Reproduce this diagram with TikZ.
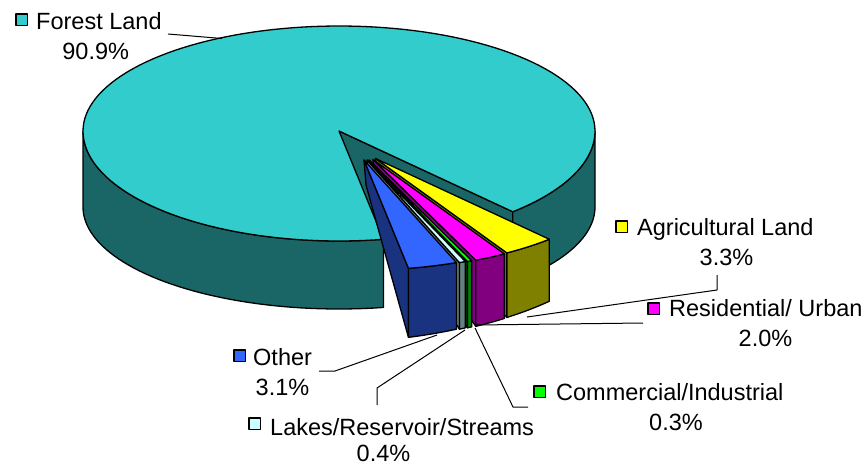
\documentclass[tikz,border=0pt]{standalone}
\usepackage{fontspec}
\setmainfont{Liberation Sans}
\definecolor{forestT}{HTML}{33CCCC}
\definecolor{forestS}{HTML}{1A6666}
\definecolor{otherT}{HTML}{3366FF}
\definecolor{otherS}{HTML}{1A3380}
\definecolor{lakeT}{HTML}{CCFFFF}
\definecolor{lakeS}{HTML}{668080}
\definecolor{commT}{HTML}{00FF00}
\definecolor{commS}{HTML}{008000}
\definecolor{resT}{HTML}{FF00FF}
\definecolor{resS}{HTML}{800080}
\definecolor{agriT}{HTML}{FFFF00}
\definecolor{agriS}{HTML}{808000}
\def\cx{339}\def\cy{131}\def\rx{256}\def\ryb{105}\def\ryf{110}\def\by{207}\def\rby{102}
\newcommand\pieslice[6]{%
 \filldraw[outl, fill=#6] ({\cx+#3},{\cy+#4}) -- ({\cx+#3+\rx*cos(#1)},{\cy+#4-\ryf*sin(#1)}) -- ({\cx+#3+\rx*cos(#1)},{\cy+#4-\ryf*sin(#1)+69-0.214*(#1+80)}) -- ({\cx+#3+2},{\cy+#4+25}) -- cycle;
 \filldraw[outl, fill=#6] plot[domain=#1:#2, samples=15, variable=\t] ({\cx+#3+\rx*cos(\t)},{\cy+#4-\ryf*sin(\t)}) -- plot[domain=#2:#1, samples=15, variable=\t] ({\cx+#3+\rx*cos(\t)},{\cy+#4-\ryf*sin(\t)+69-0.214*(\t+80)}) -- cycle;
 \filldraw[outl, fill=#5] ({\cx+#3},{\cy+#4}) -- plot[domain=#1:#2, samples=15, variable=\t] ({\cx+#3+\rx*cos(\t)},{\cy+#4-\ryf*sin(\t)}) -- cycle;
}
\begin{document}
\begin{tikzpicture}[x=1pt,y=-1pt, line join=round,
  outl/.style={draw=black, line width=1.3pt},
  lead/.style={draw=black, line width=1pt},
  lbl/.style={anchor=base west, inner sep=0pt, font=\fontsize{23.5}{28}\selectfont},
  pct/.style={anchor=base, inner sep=0pt, font=\fontsize{23.5}{28}\selectfont},
  key/.style={draw=black, line width=1.6pt, minimum size=11.5pt, inner sep=0pt, anchor=north west}]
\useasboundingbox (0,0) rectangle (866,466);
% main pie: cut face at -47.24
\filldraw[outl, fill=forestS] (\cx,\cy) -- ({\cx+\rx*cos(-47.24)},{\cy-\ryf*sin(-47.24)}) -- ({\cx+\rx*cos(-47.24)},{\by-\rby*sin(-47.24)}) -- (\cx,\by) -- cycle;
% sides
\filldraw[outl, fill=forestS] plot[domain=180:280, samples=50, variable=\t] ({\cx+\rx*cos(\t)},{\cy-\ryf*sin(\t)}) -- plot[domain=280:180, samples=50, variable=\t] ({\cx+\rx*cos(\t)},{\by-\rby*sin(\t)}) -- cycle;
\filldraw[outl, fill=forestS] plot[domain=-47.24:0, samples=30, variable=\t] ({\cx+\rx*cos(\t)},{\cy-\ryf*sin(\t)}) -- plot[domain=0:-47.24, samples=30, variable=\t] ({\cx+\rx*cos(\t)},{\by-\rby*sin(\t)}) -- cycle;
% top
\filldraw[outl, fill=forestT] (\cx,\cy) -- plot[domain=-47.24:0, samples=30, variable=\t] ({\cx+\rx*cos(\t)},{\cy-\ryf*sin(\t)}) -- plot[domain=0:180, samples=80, variable=\t] ({\cx+\rx*cos(\t)},{\cy-\ryb*sin(\t)}) -- plot[domain=180:280, samples=50, variable=\t] ({\cx+\rx*cos(\t)},{\cy-\ryf*sin(\t)}) -- cycle;
% exploded slices, right to left
\pieslice{-59.12}{-47.24}{36.5}{27.5}{agriT}{agriS}
\pieslice{-66.32}{-59.12}{34}{28.5}{resT}{resS}
\pieslice{-67.40}{-66.32}{30}{29}{commT}{commS}
\pieslice{-68.84}{-67.40}{28}{29}{lakeT}{lakeS}
\pieslice{-80}{-68.84}{25}{29}{otherT}{otherS}
% labels
\node[key, fill=forestT] (kf) at (15,13) {};
\node[lbl] (tf) at (36,29) {Forest Land};
\node[pct] (pf) at (95.7,59) {90.9\%};
\node[key, fill=agriT] (ka) at (615,220) {};
\node[lbl] (ta) at (637,235) {Agricultural Land};
\node[pct] (pa) at (726.5,265) {3.3\%};
\node[key, fill=resT] (kr) at (647,302) {};
\node[lbl] (tr) at (669,316.7) {Residential/ Urban};
\node[pct] (pr) at (765.5,346.7) {2.0\%};
\node[key, fill=otherT] (ko) at (233,349) {};
\node[lbl] (to) at (253,365) {Other};
\node[pct] (po) at (282.5,395) {3.1\%};
\node[key, fill=lakeT] (kl) at (248,417) {};
\node[lbl] (tl) at (270,435) {Lakes/Reservoir/Streams};
\node[pct] (pl) at (383.5,461.7) {0.4\%};
\node[key, fill=commT] (kc) at (533,385) {};
\node[lbl] (tc) at (556,400) {Commercial/Industrial};
\node[pct] (pc) at (676,430) {0.3\%};
% leader lines
\coordinate (f1) at (168,34); \coordinate (f2) at (222,38.5);
\coordinate (a1) at (717,275); \coordinate (a2) at (717,290); \coordinate (a3) at (527,317);
\coordinate (r1) at (643,323); \coordinate (r2) at (476,325);
\coordinate (c1) at (528,407); \coordinate (c2) at (513,407); \coordinate (c3) at (475,328);
\coordinate (l1) at (377,405); \coordinate (l2) at (377,388); \coordinate (l3) at (465,330);
\coordinate (o1) at (319,371); \coordinate (o2) at (335,371); \coordinate (o3) at (437,335);
\draw[lead] (f1) -- (f2);
\draw[lead] (a1) -- (a2) -- (a3);
\draw[lead] (r1) -- (r2);
\draw[lead] (c1) -- (c2) -- (c3);
\draw[lead] (l1) -- (l2) -- (l3);
\draw[lead] (o1) -- (o2) -- (o3);
\end{tikzpicture}
\end{document}
